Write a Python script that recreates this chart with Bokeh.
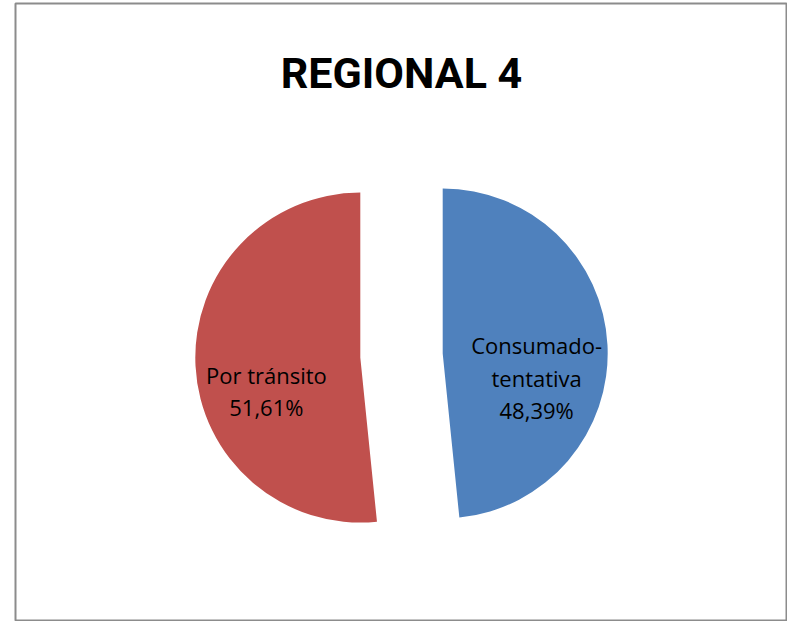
import math
from bokeh.plotting import figure
from bokeh.models import Range1d, ColumnDataSource
from bokeh.core.properties import value
from bokeh.embed import file_html
from bokeh.resources import INLINE

# ---- data ----
title_text = "REGIONAL 4"
categories = ["Consumado-\ntentativa", "Por tránsito"]
values = [48.39, 51.61]
pct_labels = ["48,39%", "51,61%"]
colors = ["#4F81BD", "#C0504D"]

# ---- layout constants (pixels) ----
W, H = 787, 621
BORDER_LEFT, BORDER_TOP = 15, 3
FRAME_W, FRAME_H = W - BORDER_LEFT, H - BORDER_TOP
R_PX = 165.0
CX_PX, CY_PX = 386.0, 352.0        # pie centre inside frame (from top-left)
EXPLODE = 0.25                      # fraction of radius
LABEL_R = 0.57
LABEL_DY = -0.175
TITLE_BASE_PX = 69.0

x0 = -CX_PX / R_PX
x1 = (FRAME_W - CX_PX) / R_PX
y1 = CY_PX / R_PX
y0 = -(FRAME_H - CY_PX) / R_PX

p = figure(width=W, height=H, output_backend="svg", toolbar_location=None,
           x_range=Range1d(x0, x1), y_range=Range1d(y0, y1),
           min_border_left=BORDER_LEFT, min_border_right=0,
           min_border_top=BORDER_TOP, min_border_bottom=0)
p.axis.visible = False
p.grid.visible = False
p.outline_line_color = "#8c8c8c"
p.outline_line_width = 2
p.background_fill_color = "white"
p.border_fill_color = "white"

total = sum(values)
xs, ys, starts, ends, lx, ly, texts = [], [], [], [], [], [], []
cum = 0.0
for cat, v, pct in zip(categories, values, pct_labels):
    a0 = math.radians(90 - cum / total * 360)
    a1 = math.radians(90 - (cum + v) / total * 360)
    mid = (a0 + a1) / 2
    cx = EXPLODE * math.cos(mid)
    cy = EXPLODE * math.sin(mid)
    xs.append(cx); ys.append(cy)
    starts.append(a1); ends.append(a0)
    lx.append(cx + LABEL_R * math.cos(mid))
    ly.append(cy + LABEL_R * math.sin(mid) + LABEL_DY)
    texts.append(cat + "\n" + pct)
    cum += v

src = ColumnDataSource(dict(x=xs, y=ys, start=starts, end=ends, color=colors,
                            lx=lx, ly=ly, text=texts))

p.wedge(x="x", y="y", radius=1.0, start_angle="start", end_angle="end",
        direction="anticlock", fill_color="color", line_color=None, source=src)

p.text(x="lx", y="ly", text="text", source=src, text_align="center",
       text_baseline="middle", text_font=value("Open Sans"),
       text_font_size="22px", text_color="black", text_line_height=1.07)

p.text(x=[0.0], y=[(CY_PX - TITLE_BASE_PX) / R_PX], text=[title_text],
       text_align="center", text_baseline="alphabetic",
       text_font=value("Roboto"), text_font_style="bold",
       text_font_size="43px", text_color="black")

open("out.html", "w").write(file_html(p, INLINE))
